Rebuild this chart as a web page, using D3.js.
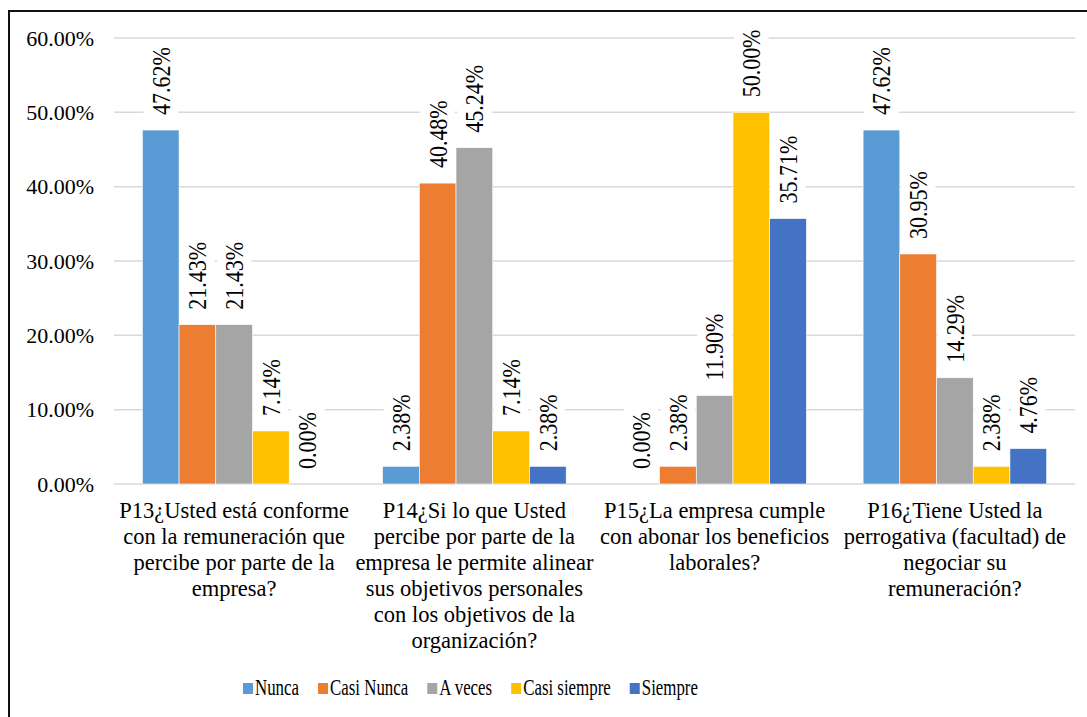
<!DOCTYPE html>
<html>
<head>
<meta charset="utf-8">
<script src="https://cdn.jsdelivr.net/npm/d3@7"></script>
<style>
  html, body { margin: 0; padding: 0; background: #fff; }
  svg { display: block; }
</style>
</head>
<body>
<svg id="chart" width="1087" height="717" font-family="Liberation Serif, DejaVu Serif, serif"></svg>
<script>
const FONT = "Liberation Serif, DejaVu Serif, serif";

// Survey questions (category labels, already split into lines)
const categories = ["P13", "P14", "P15", "P16"];
const categoryLines = [
  ["P13¿Usted está conforme", "con la remuneración que", "percibe por parte de la", "empresa?"],
  ["P14¿Si lo que Usted", "percibe por parte de la", "empresa le permite alinear", "sus objetivos personales", "con los objetivos de la", "organización?"],
  ["P15¿La empresa cumple", "con abonar los beneficios", "laborales?"],
  ["P16¿Tiene Usted la", "perrogativa (facultad) de", "negociar su", "remuneración?"]
];

// Answer options and their share of responses (%) per question
const seriesNames = ["Nunca", "Casi Nunca", "A veces", "Casi siempre", "Siempre"];
const nunca       = [47.62, 2.38, 0.00, 47.62];
const casiNunca   = [21.43, 40.48, 2.38, 30.95];
const aVeces      = [21.43, 45.24, 11.90, 14.29];
const casiSiempre = [7.14, 7.14, 50.00, 2.38];
const siempre     = [0.00, 2.38, 35.71, 4.76];
const seriesValues = [nunca, casiNunca, aVeces, casiSiempre, siempre];

const yTicks = [0, 10, 20, 30, 40, 50, 60];
const colors = ["#5B9BD5", "#ED7D31", "#A5A5A5", "#FFC000", "#4472C4"];

const svg = d3.select("#chart");

// Outer frame (top and left edges)
svg.append("line").attr("x1", 9).attr("x2", 1087).attr("y1", 11).attr("y2", 11)
  .attr("stroke", "#111").attr("stroke-width", 2);
svg.append("line").attr("x1", 9).attr("x2", 9).attr("y1", 10).attr("y2", 717)
  .attr("stroke", "#111").attr("stroke-width", 2);

const plotLeft = 114, plotRight = 1075, plotTop = 38, plotBottom = 484;

const x0 = d3.scaleBand().domain(categories).range([plotLeft, plotRight])
  .paddingInner(0.236).paddingOuter(0.118);
const x1 = d3.scaleBand().domain(seriesNames).range([0, x0.bandwidth()]).padding(0);
const y = d3.scaleLinear().domain([0, 60]).range([plotBottom, plotTop]);

// Horizontal gridlines
svg.append("g").selectAll("line").data(yTicks).join("line")
  .attr("x1", plotLeft).attr("x2", plotRight)
  .attr("y1", d => y(d)).attr("y2", d => y(d))
  .attr("stroke", "#D9D9D9").attr("stroke-width", 1.5);

// Y axis tick labels
const yAxis = d3.axisLeft(y).tickValues(yTicks).tickSize(0).tickPadding(0)
  .tickFormat(d => d.toFixed(2) + "%");
const yG = svg.append("g").attr("transform", `translate(94,0)`).call(yAxis);
yG.attr("font-family", FONT).attr("font-size", 22);
yG.select(".domain").remove();
yG.selectAll("text").attr("font-family", FONT).attr("fill", "#000").attr("dy", "0.33em");

// Flatten for drawing
const bars = [];
categories.forEach((c, ci) => {
  seriesNames.forEach((s, si) => {
    bars.push({ cat: c, ci, series: s, si, value: seriesValues[si][ci] });
  });
});

// Bars
svg.append("g").selectAll("rect").data(bars).join("rect")
  .attr("x", d => x0(d.cat) + x1(d.series))
  .attr("y", d => y(d.value))
  .attr("width", x1.bandwidth())
  .attr("height", d => y(0) - y(d.value))
  .attr("fill", d => colors[d.si])
  .attr("stroke", "#fff").attr("stroke-width", 0.6);

// Rotated value labels with white background
const labelG = svg.append("g");
bars.forEach(d => {
  const cx = x0(d.cat) + x1(d.series) + x1.bandwidth() / 2;
  const startY = y(d.value) - 15;
  const g = labelG.append("g")
    .attr("transform", `translate(${cx},${startY}) rotate(-90) scale(1,1.15)`);
  const rect = g.append("rect").attr("fill", "#fff");
  const t = g.append("text")
    .attr("x", 0).attr("y", 0).attr("dy", "0.35em")
    .attr("font-family", FONT).attr("font-size", 22).attr("fill", "#000")
    .text(d.value.toFixed(2) + "%");
  const len = t.node().getComputedTextLength();
  rect.attr("x", -8).attr("y", -15).attr("width", len + 16).attr("height", 30);
});

// Category labels
const catG = svg.append("g");
categories.forEach((c, ci) => {
  const cx = x0(c) + x0.bandwidth() / 2;
  const t = catG.append("text").attr("text-anchor", "middle")
    .attr("font-family", FONT).attr("font-size", 22.5).attr("fill", "#000");
  categoryLines[ci].forEach((line, li) => {
    t.append("tspan").attr("x", cx).attr("y", 518 + li * 26).text(line);
  });
});

// Legend (slightly condensed text)
const legend = svg.append("g");
let lx = 243;
const legendScale = 0.75;
seriesNames.forEach((s, si) => {
  legend.append("rect").attr("x", lx).attr("y", 683).attr("width", 10).attr("height", 11)
    .attr("fill", colors[si]);
  const t = legend.append("text")
    .attr("transform", `translate(${lx + 12},695) scale(${legendScale},1)`)
    .attr("font-family", FONT).attr("font-size", 22.5).attr("fill", "#000").text(s);
  const w = t.node().getComputedTextLength() * legendScale;
  lx += 12 + w + 19;
});
</script>
</body>
</html>
